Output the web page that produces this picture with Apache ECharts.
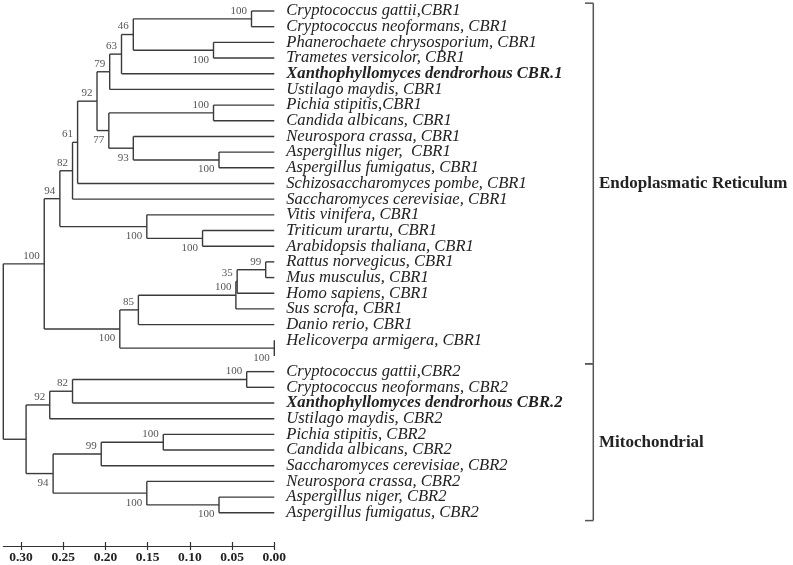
<!DOCTYPE html>
<html>
<head>
<meta charset="utf-8">
<script src="https://cdn.jsdelivr.net/npm/echarts@6/dist/echarts.min.js"></script>
<style>html,body{margin:0;padding:0;background:#fff}#c{width:793px;height:565px}</style>
</head>
<body>
<div id="c"></div>
<script>
// Leaves, top to bottom (row 22 is the unnamed sister tip of Helicoverpa)
const leafNames = [
  "Cryptococcus gattii,CBR1", "Cryptococcus neoformans, CBR1", "Phanerochaete chrysosporium, CBR1",
  "Trametes versicolor, CBR1", "Xanthophyllomyces dendrorhous CBR.1", "Ustilago maydis, CBR1",
  "Pichia stipitis,CBR1", "Candida albicans, CBR1", "Neurospora crassa, CBR1",
  "Aspergillus niger,  CBR1", "Aspergillus fumigatus, CBR1", "Schizosaccharomyces pombe, CBR1",
  "Saccharomyces cerevisiae, CBR1", "Vitis vinifera, CBR1", "Triticum urartu, CBR1",
  "Arabidopsis thaliana, CBR1", "Rattus norvegicus, CBR1", "Mus musculus, CBR1",
  "Homo sapiens, CBR1", "Sus scrofa, CBR1", "Danio rerio, CBR1", "Helicoverpa armigera, CBR1", "",
  "Cryptococcus gattii,CBR2", "Cryptococcus neoformans, CBR2", "Xanthophyllomyces dendrorhous CBR.2",
  "Ustilago maydis, CBR2", "Pichia stipitis, CBR2", "Candida albicans, CBR2",
  "Saccharomyces cerevisiae, CBR2", "Neurospora crassa, CBR2", "Aspergillus niger, CBR2",
  "Aspergillus fumigatus, CBR2"
];
const boldLeaves = [4, 25];

// Internal clades: children (L = leaf row, C = clade index), node height (distance), bootstrap
const cladeChildren = [
  ["L0","L1"], ["L2","L3"], ["C0","C1"], ["C2","L4"], ["C3","L5"],
  ["L6","L7"], ["L9","L10"], ["L8","C6"], ["C5","C7"], ["C4","C8"],
  ["C9","L11"], ["C10","L12"], ["L14","L15"], ["L13","C12"], ["C11","C13"],
  ["L16","L17"], ["C15","L18"], ["C16","L19"], ["C17","L20"], ["L21","L22"],
  ["C18","C19"], ["C14","C20"],
  ["L23","L24"], ["C22","L25"], ["C23","L26"], ["L27","L28"], ["C25","L29"],
  ["L31","L32"], ["L30","C27"], ["C26","C28"], ["C24","C29"], ["C21","C30"]
];
const cladeHeight = [
  0.027, 0.072, 0.167, 0.181, 0.195,
  0.072, 0.0655, 0.167, 0.196, 0.210,
  0.233, 0.239, 0.085, 0.151, 0.254,
  0.0102, 0.0440, 0.0455, 0.161, 0.0,
  0.183, 0.2725,
  0.0327, 0.239, 0.266, 0.1315, 0.205,
  0.0655, 0.151, 0.262, 0.294, 0.321
];
const cladeSupport = [
  100, 100, 46, 63, 79,
  100, 100, 93, 77, 92,
  61, 82, 100, 100, 94,
  99, 35, 100, 85, 100,
  100, 100,
  100, 82, 92, 100, 99,
  100, 100, 94, null, null
];

// Axis ticks
const tickValues = [0, 0.05, 0.10, 0.15, 0.20, 0.25, 0.30];
const axisMax = 0.321;

// Groups (row ranges covered by brackets)
const groupNames = ["Endoplasmatic Reticulum", "Mitochondrial"];
const groupStart = [-0.5, 22.5];
const groupEnd = [22.5, 32.5];

// ---- build layout from the tree ----
function pos(ref) {
  if (ref[0] === 'L') return { x: 0, y: +ref.slice(1) };
  const k = +ref.slice(1);
  const a = pos(cladeChildren[k][0]), b = pos(cladeChildren[k][1]);
  return { x: cladeHeight[k], y: (a.y + b.y) / 2 };
}
const segments = [];
const supportLabels = [];
cladeChildren.forEach((ch, k) => {
  const p = pos('C' + k);
  const a = pos(ch[0]), b = pos(ch[1]);
  segments.push([p.x, a.y, p.x, b.y]);
  [a, b].forEach(c => { if (c.x !== p.x) segments.push([p.x, c.y, c.x, c.y]); });
});
cladeChildren.forEach((ch, k) => {
  ch.forEach((ref, i) => {
    if (ref[0] === 'C') {
      const j = +ref.slice(1);
      if (cladeSupport[j] != null) {
        const q = pos(ref);
        supportLabels.push([q.x, q.y, cladeSupport[j], i === 0 ? -1 : 1]);
      }
    }
  });
});

const chart = echarts.init(document.getElementById('c'), null, { renderer: 'canvas' });
const serif = "'Liberation Serif', 'Times New Roman', serif";
const gridGeom = { left: 3.3, right: 518.7, top: 3.16, bottom: 44.4, containLabel: false, outerBoundsMode: 'none' };
chart.setOption({
  animation: false,
  backgroundColor: '#fff',
  grid: [Object.assign({}, gridGeom), Object.assign({}, gridGeom)],
  xAxis: [{
    gridIndex: 0, type: 'value', inverse: true, min: 0, max: axisMax, position: 'bottom', offset: 25.4,
    splitLine: { show: false },
    axisLine: { show: true, onZero: false, lineStyle: { color: '#333', width: 1.2 } },
    axisTick: { show: true, length: 4, customValues: tickValues, lineStyle: { color: '#333', width: 1.2 } },
    axisLabel: { customValues: tickValues, formatter: v => v.toFixed(2), fontFamily: serif, fontWeight: 'bold', fontSize: 13.5, color: '#222', margin: 5 }
  }, {
    gridIndex: 1, type: 'value', inverse: true, min: 0, max: axisMax, position: 'bottom', offset: 25.4,
    splitLine: { show: false },
    axisLine: { show: false, onZero: false },
    axisTick: { show: true, inside: true, length: 4, customValues: tickValues, lineStyle: { color: '#333', width: 1.2 } },
    axisLabel: { show: false }
  }],
  yAxis: [{
    gridIndex: 0, type: 'value', inverse: true, min: -0.5, max: 32.5, show: false
  }, {
    gridIndex: 0, type: 'category', data: leafNames, inverse: true, position: 'right', boundaryGap: true,
    axisLine: { show: false, onZero: false }, axisTick: { show: false }, splitLine: { show: false },
    axisLabel: {
      interval: 0, margin: 12, fontFamily: serif, fontStyle: 'italic', fontSize: 16.6, color: '#222',
      formatter: (v, i) => boldLeaves.indexOf(i) >= 0 ? '{b|' + v + '}' : v,
      rich: { b: { fontFamily: serif, fontStyle: 'italic', fontWeight: 'bold', fontSize: 16.6, color: '#222' } }
    }
  }, {
    gridIndex: 1, type: 'value', inverse: true, min: -0.5, max: 32.5, show: false
  }],
  series: [{
    type: 'custom', xAxisIndex: 0, yAxisIndex: 0, clip: false,
    data: segments,
    renderItem: (params, api) => {
      const p1 = api.coord([api.value(0), api.value(1)]);
      const p2 = api.coord([api.value(2), api.value(3)]);
      return { type: 'line', shape: { x1: p1[0], y1: p1[1], x2: p2[0], y2: p2[1] },
        style: { stroke: '#3a3a3a', lineWidth: 1.4 } };
    }
  }, {
    type: 'custom', xAxisIndex: 0, yAxisIndex: 0, clip: false,
    data: supportLabels,
    renderItem: (params, api) => {
      const p = api.coord([api.value(0), api.value(1)]);
      const side = api.value(3);
      return { type: 'text', x: p[0] - 4.5, y: p[1] + (side < 0 ? -8 : 9.5),
        style: { text: String(api.value(2)), fontFamily: serif, fontSize: 11, fill: '#555', align: 'right', verticalAlign: 'middle' } };
    }
  }, {
    type: 'custom', xAxisIndex: 0, yAxisIndex: 0, clip: false,
    data: groupNames.map((n, i) => [groupStart[i], groupEnd[i], i]),
    renderItem: (params, api) => {
      const top = api.coord([0, api.value(0)]);
      const bot = api.coord([0, api.value(1)]);
      const bx = top[0] + 319, sx = top[0] + 310.7;
      const st = { stroke: '#555', lineWidth: 1.5 };
      return { type: 'group', children: [
        { type: 'line', shape: { x1: bx, y1: top[1], x2: bx, y2: bot[1] }, style: st },
        { type: 'line', shape: { x1: sx, y1: top[1], x2: bx, y2: top[1] }, style: st },
        { type: 'line', shape: { x1: sx, y1: bot[1], x2: bx, y2: bot[1] }, style: st },
        { type: 'text', x: bx + 5.7, y: (top[1] + bot[1]) / 2,
          style: { text: groupNames[api.value(2)], fontFamily: serif, fontWeight: 'bold', fontSize: 17, fill: '#222', align: 'left', verticalAlign: 'middle' } }
      ] };
    }
  }]
});
</script>
</body>
</html>
